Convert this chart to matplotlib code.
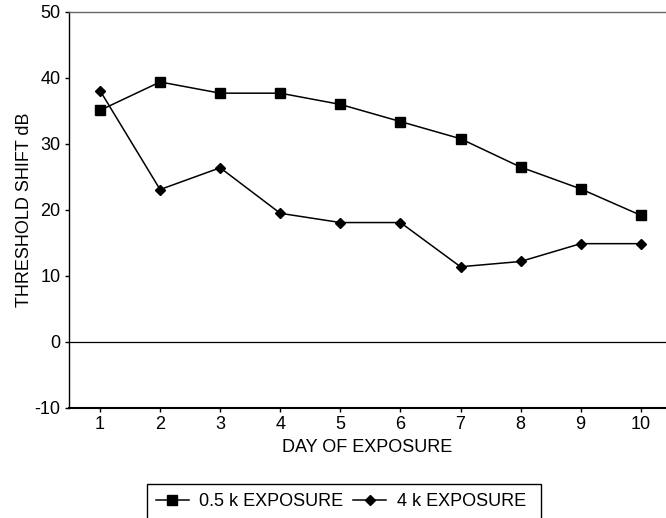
import numpy as np
import matplotlib
matplotlib.use('Agg')
import matplotlib.pyplot as plt
from matplotlib.patches import Rectangle

# Data
##############################################################################
days = [1, 2, 3, 4, 5, 6, 7, 8, 9, 10]
shift_05k = [35.1, 39.4, 37.7, 37.7, 36.0, 33.4, 30.8, 26.5, 23.2, 19.2]
shift_4k = [38.1, 23.1, 26.4, 19.5, 18.1, 18.1, 11.4, 12.2, 14.9, 14.9]
yticks = [-10, 0, 10, 20, 30, 40, 50]
labels = ['0.5 k EXPOSURE', '4 k EXPOSURE']

# Plot
##############################################################################
plt.rcParams['font.family'] = ['Liberation Sans', 'DejaVu Sans']
plt.rcParams['font.size'] = 13
plt.rcParams['axes.unicode_minus'] = False

fig = plt.figure(figsize=(6.66, 5.18), dpi=100)
ax = fig.add_axes([69/666, 1-408/518, 1-69/666, 396/518])

ax.plot(days, shift_05k, color='black', lw=1.1, marker='s', ms=7, label=labels[0])
ax.plot(days, shift_4k, color='black', lw=1.1, marker='D', ms=5.5, label=labels[1])
ax.axhline(0, color='black', lw=0.9)

ax.set_xlim(0.484, 10.42)
ax.set_ylim(-10, 50)
ax.set_xticks(days)
ax.set_yticks(yticks)
ax.tick_params(direction='out', length=3, width=1, pad=3, labelsize=13)

ax.spines['right'].set_visible(False)
ax.spines['top'].set_color('#666666')
ax.spines['top'].set_linewidth(1)
ax.spines['left'].set_linewidth(1)
ax.spines['bottom'].set_linewidth(1.5)

ax.set_xlabel('DAY OF EXPOSURE', fontsize=13, labelpad=4)
ax.set_ylabel('THRESHOLD SHIFT dB', fontsize=13, labelpad=1.5)

# legend box runs off the bottom of the page, so draw the frame by hand
leg = fig.legend(loc='upper left', bbox_to_anchor=(147/666, 1-484/518), ncol=2,
                 frameon=False, borderaxespad=0,
                 handlelength=1.8, handletextpad=0.6, columnspacing=0.55,
                 borderpad=0.5, fontsize=13)
fig.canvas.draw()
bb = leg.get_window_extent().transformed(fig.transFigure.inverted())
fig.patches.append(Rectangle((bb.x0, bb.y0 - 0.1), bb.width + 6/666, bb.height + 0.1,
                             transform=fig.transFigure, fill=False,
                             edgecolor='black', lw=1))

fig.savefig('out.png', dpi=100)
